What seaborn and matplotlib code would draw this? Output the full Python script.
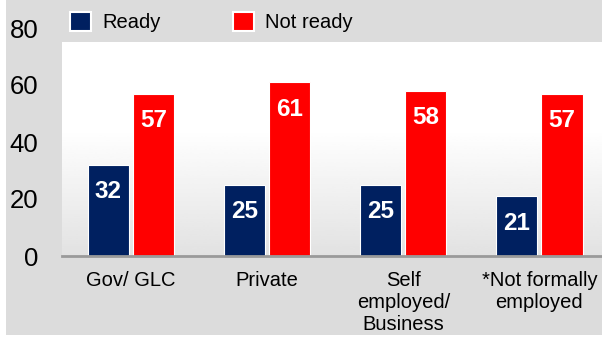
import numpy as np
import pandas as pd
import matplotlib.pyplot as plt
import seaborn as sns
from matplotlib.patches import Patch, Rectangle

# chart values
CATEGORIES = ["Gov/ GLC", "Private", "Self\nemployed/\nBusiness", "*Not formally\nemployed"]
READY = [32, 25, 25, 21]
NOT_READY = [57, 61, 58, 57]
SERIES = ["Ready", "Not ready"]
Y_TICKS = [0, 20, 40, 60, 80]

COLORS = {"Ready": "#002060", "Not ready": "#ff0000"}

# long format table for seaborn
def build_frame():
    rows = []
    for cat, r, n in zip(CATEGORIES, READY, NOT_READY):
        rows.append({"category": cat, "series": "Ready", "value": r})
        rows.append({"category": cat, "series": "Not ready", "value": n})
    return pd.DataFrame(rows)


def main():
    sns.set_style("white")
    plt.rcParams["font.family"] = ["Liberation Sans", "DejaVu Sans"]
    plt.rcParams["text.color"] = "black"

    df = build_frame()

    fig = plt.figure(figsize=(6.02, 3.43), dpi=100, facecolor="white")
    # gray panel behind everything
    fig.patches.append(Rectangle((6 / 602, 8 / 343), 1, 1, transform=fig.transFigure,
                                 facecolor="#dcdcdc", edgecolor="none", zorder=-10))

    ax = fig.add_axes([62 / 602, 87 / 343, 540 / 602, 228 / 343])
    ax.patch.set_alpha(0)

    sns.barplot(data=df, x="category", y="value", hue="series", hue_order=SERIES,
                palette=COLORS, order=CATEGORIES, width=0.665, gap=0.09,
                saturation=1, edgecolor="white", linewidth=0.8, legend=False,
                ax=ax, zorder=3)

    # plot area gradient, gray at top fading to white
    grad = np.concatenate([np.linspace(0.885, 1.0, 60), np.ones(40)])[:, None]
    ax.imshow(grad, cmap="gray", vmin=0, vmax=1, aspect="auto",
              extent=(-0.507, 3.46, 75, 0), zorder=0)
    ax.set_xlim(-0.507, 3.46)
    ax.set_ylim(0, 80)

    # value labels inside the bars
    for container in ax.containers:
        for bar in container:
            h = bar.get_height()
            ax.annotate(f"{h:.0f}", (bar.get_x() + bar.get_width() / 2, h),
                        xytext=(0, -19.5), textcoords="offset points",
                        ha="center", va="center", color="white",
                        fontsize=17.5, fontweight="bold", zorder=5)

    ax.set_yticks(Y_TICKS)
    ax.tick_params(axis="y", length=0, pad=17, labelsize=18.5, labelcolor="black")
    ax.tick_params(axis="x", length=0, pad=11, labelsize=14.5, labelcolor="black")
    for lbl in ax.get_xticklabels():
        lbl.set_linespacing(1.2)
    ax.set_xlabel("")
    ax.set_ylabel("")

    for side in ["top", "right", "left"]:
        ax.spines[side].set_visible(False)
    ax.spines["bottom"].set_color("#9a9a9a")
    ax.spines["bottom"].set_linewidth(2)
    ax.spines["bottom"].set_zorder(4)

    handles = [Patch(facecolor=COLORS[s], edgecolor="white", linewidth=1.5, label=s)
               for s in SERIES]
    fig.legend(handles=handles, loc="upper left", bbox_to_anchor=(58 / 602, 1.0),
               ncol=2, frameon=False, fontsize=14.5, handlelength=1.05,
               handleheight=1.05, handletextpad=0.55, columnspacing=3.6,
               borderaxespad=0.2, labelcolor="black")

    fig.savefig("out.png", dpi=100, facecolor="white")


main()
